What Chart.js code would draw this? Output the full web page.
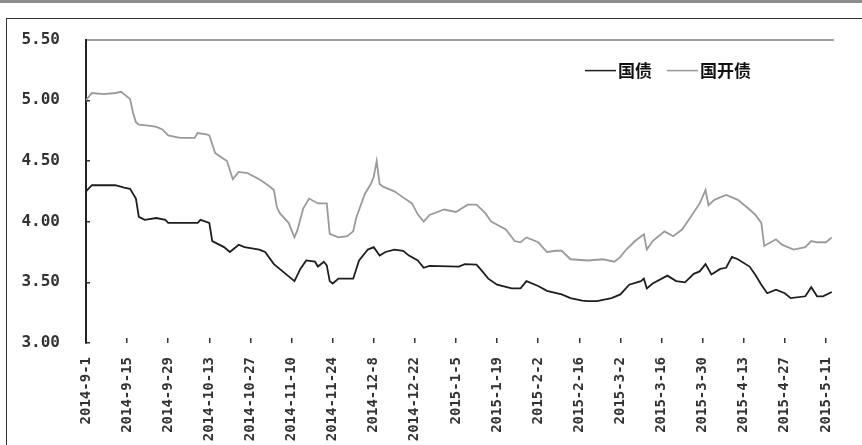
<!DOCTYPE html>
<html>
<head>
  <meta charset="UTF-8">
  <script src="https://cdn.jsdelivr.net/npm/chart.js"></script>
  <title>国债 国开债</title>
  <style>
    body { margin: 0; width: 862px; height: 445px; background: #fff; position: relative; overflow: hidden; }
    .topbar { position: absolute; left: 0; top: 0; width: 862px; height: 3px; background: #8c8c8c; }
    .frame { position: absolute; left: 6px; top: 18px; width: 900px; height: 500px; border-left: 1.5px solid #333; border-top: 1.5px solid #333; }
    .grafic_cont { position: absolute; left: 0; top: 0; width: 862px; height: 445px; }
  </style>
</head>
<body>
  <div class="topbar"></div>
  <div class="frame"></div>
  <div class="grafic_cont">
    <canvas id="myChart" width="862" height="445"></canvas>
  </div>
  <script>
    // x positions are days counted from 2014-9-1
    var tickLabels = ['2014-9-1', '2014-9-15', '2014-9-29', '2014-10-13', '2014-10-27', '2014-11-10', '2014-11-24',
      '2014-12-8', '2014-12-22', '2015-1-5', '2015-1-19', '2015-2-2', '2015-2-16', '2015-3-2', '2015-3-16',
      '2015-3-30', '2015-4-13', '2015-4-27', '2015-5-11'];
    var tickDays = [0, 14, 28, 42, 56, 70, 84, 98, 112, 126, 140, 154, 168, 182, 196, 210, 224, 238, 252];

    // 国债
    var govDays = [0, 2, 10, 13, 15, 17, 18, 20, 24, 27, 28, 38, 39, 42, 43, 47, 49, 52, 54, 59, 61, 64, 68, 71, 73, 75,
      78, 79, 81, 82, 83, 84, 86, 91, 93, 96, 98, 100, 102, 105, 108, 110, 113, 115, 117, 127, 129, 133, 135, 137, 140,
      145, 148, 150, 154, 157, 162, 165, 169, 171, 174, 179, 182, 185, 189, 190, 191, 193, 198, 201, 204, 207, 209, 211,
      213, 216, 218, 220, 222, 226, 228, 230, 232, 235, 238, 240, 245, 247, 249, 251, 254];
    var govYield = [4.25, 4.30, 4.30, 4.28, 4.27, 4.19, 4.04, 4.015, 4.03, 4.015, 3.99, 3.99, 4.015, 3.99, 3.84, 3.79, 3.75,
      3.81, 3.79, 3.77, 3.75, 3.65, 3.57, 3.51, 3.61, 3.68, 3.67, 3.63, 3.67, 3.64, 3.51, 3.49, 3.53, 3.53, 3.68, 3.77,
      3.79, 3.72, 3.75, 3.77, 3.76, 3.72, 3.68, 3.62, 3.635, 3.63, 3.65, 3.645, 3.59, 3.53, 3.48, 3.45, 3.45, 3.51, 3.47,
      3.43, 3.40, 3.37, 3.35, 3.345, 3.345, 3.37, 3.40, 3.48, 3.51, 3.53, 3.45, 3.49, 3.555, 3.51, 3.50, 3.57, 3.59, 3.65,
      3.565, 3.61, 3.62, 3.71, 3.69, 3.63, 3.56, 3.48, 3.41, 3.44, 3.41, 3.37, 3.385, 3.46, 3.385, 3.385, 3.42];

    // 国开债
    var cdbDays = [0, 2, 6, 10, 12, 14, 15, 16, 17, 18, 22, 24, 26, 28, 32, 37, 38, 41, 42, 44, 48, 50, 52, 55, 59, 62, 64,
      65, 66, 69, 71, 72, 74, 76, 79, 82, 83, 86, 89, 91, 92, 95, 97, 98, 99, 100, 101, 105, 108, 111, 113, 115, 117, 122,
      126, 130, 133, 136, 138, 143, 146, 148, 150, 154, 157, 160, 162, 165, 171, 176, 180, 182, 184, 187, 190, 191, 193,
      197, 200, 203, 206, 209, 211, 212, 214, 218, 222, 226, 228, 230, 231, 235, 237, 241, 245, 247, 249, 252, 254];
    var cdbYield = [5.00, 5.06, 5.05, 5.06, 5.07, 5.03, 5.01, 4.90, 4.82, 4.80, 4.79, 4.78, 4.76, 4.71, 4.69, 4.69, 4.73,
      4.72, 4.71, 4.565, 4.50, 4.35, 4.41, 4.40, 4.35, 4.30, 4.26, 4.12, 4.07, 3.99, 3.87, 3.93, 4.11, 4.19, 4.15, 4.15,
      3.90, 3.87, 3.88, 3.92, 4.03, 4.23, 4.31, 4.37, 4.50, 4.31, 4.29, 4.25, 4.20, 4.15, 4.06, 4.00, 4.055, 4.10, 4.08,
      4.14, 4.14, 4.07, 4.00, 3.935, 3.84, 3.83, 3.87, 3.83, 3.75, 3.76, 3.76, 3.69, 3.68, 3.69, 3.67, 3.71, 3.77, 3.84,
      3.895, 3.77, 3.84, 3.92, 3.88, 3.935, 4.04, 4.15, 4.26, 4.135, 4.18, 4.22, 4.18, 4.10, 4.055, 3.99, 3.80, 3.855,
      3.81, 3.77, 3.79, 3.84, 3.83, 3.83, 3.87];

    function toPoints(days, vals) {
      return days.map(function (d, i) { return { x: d, y: vals[i] }; });
    }

    // legend drawn inside the plot, top right
    var lineLegend = {
      id: 'lineLegend',
      afterDraw: function (chart) {
        var ctx = chart.ctx, area = chart.chartArea;
        var x = area.left + 499, y = area.top + 31;
        ctx.save();
        ctx.font = 'bold 17px "Noto Sans CJK SC"';
        ctx.textBaseline = 'middle';
        chart.data.datasets.forEach(function (ds) {
          ctx.strokeStyle = ds.borderColor;
          ctx.lineWidth = 1.5;
          ctx.beginPath();
          ctx.moveTo(x, y);
          ctx.lineTo(x + 31, y);
          ctx.stroke();
          ctx.fillStyle = '#111';
          ctx.fillText(ds.label, x + 33, y);
          x += 33 + ctx.measureText(ds.label).width + 15;
        });
        ctx.restore();
      }
    };

    var ctx = document.getElementById('myChart').getContext('2d');
    var chart = new Chart(ctx, {
      type: 'line',
      data: {
        datasets: [{
          label: '国债',
          data: toPoints(govDays, govYield),
          borderColor: '#1e1e1e',
          borderWidth: 1.8,
          pointRadius: 0,
          fill: false
        }, {
          label: '国开债',
          data: toPoints(cdbDays, cdbYield),
          borderColor: '#9a9a9a',
          borderWidth: 1.8,
          pointRadius: 0,
          fill: false
        }]
      },
      options: {
        responsive: false,
        animation: false,
        layout: { padding: { top: 32, right: 20, left: 0, bottom: 0 } },
        plugins: { legend: { display: false }, tooltip: { enabled: false } },
        scales: {
          x: {
            type: 'linear',
            position: 'bottom',
            min: 0,
            max: 254.5,
            afterBuildTicks: function (scale) {
              scale.ticks = tickDays.map(function (d) { return { value: d }; });
            },
            afterFit: function (scale) { scale.height = 102; },
            ticks: {
              autoSkip: false,
              minRotation: 90,
              maxRotation: 90,
              padding: 19,
              color: '#333',
              font: { family: 'DejaVu Sans Mono', size: 14, weight: 'bold' },
              callback: function (value, index) { return tickLabels[index]; }
            },
            grid: { drawOnChartArea: false, tickLength: -5, color: '#333', lineWidth: 1.5 },
            border: { display: false }
          },
          xTop: {
            type: 'linear',
            position: 'top',
            min: 0,
            max: 254.5,
            afterFit: function (scale) { scale.height = 0; },
            ticks: { display: false },
            grid: { display: false },
            border: { display: true, color: '#a0a0a0', width: 2 }
          },
          y: {
            min: 3,
            max: 5.5,
            afterFit: function (scale) { scale.width = 86; },
            ticks: {
              stepSize: 0.5,
              padding: 30,
              color: '#333',
              font: { family: 'DejaVu Sans Mono', size: 16, weight: 'bold' },
              callback: function (v) { return v.toFixed(2); }
            },
            grid: { drawOnChartArea: false, tickLength: -4, color: '#333', lineWidth: 1.5 },
            border: { display: true, color: '#222', width: 2 }
          }
        }
      },
      plugins: [lineLegend]
    });
  </script>
</body>
</html>
